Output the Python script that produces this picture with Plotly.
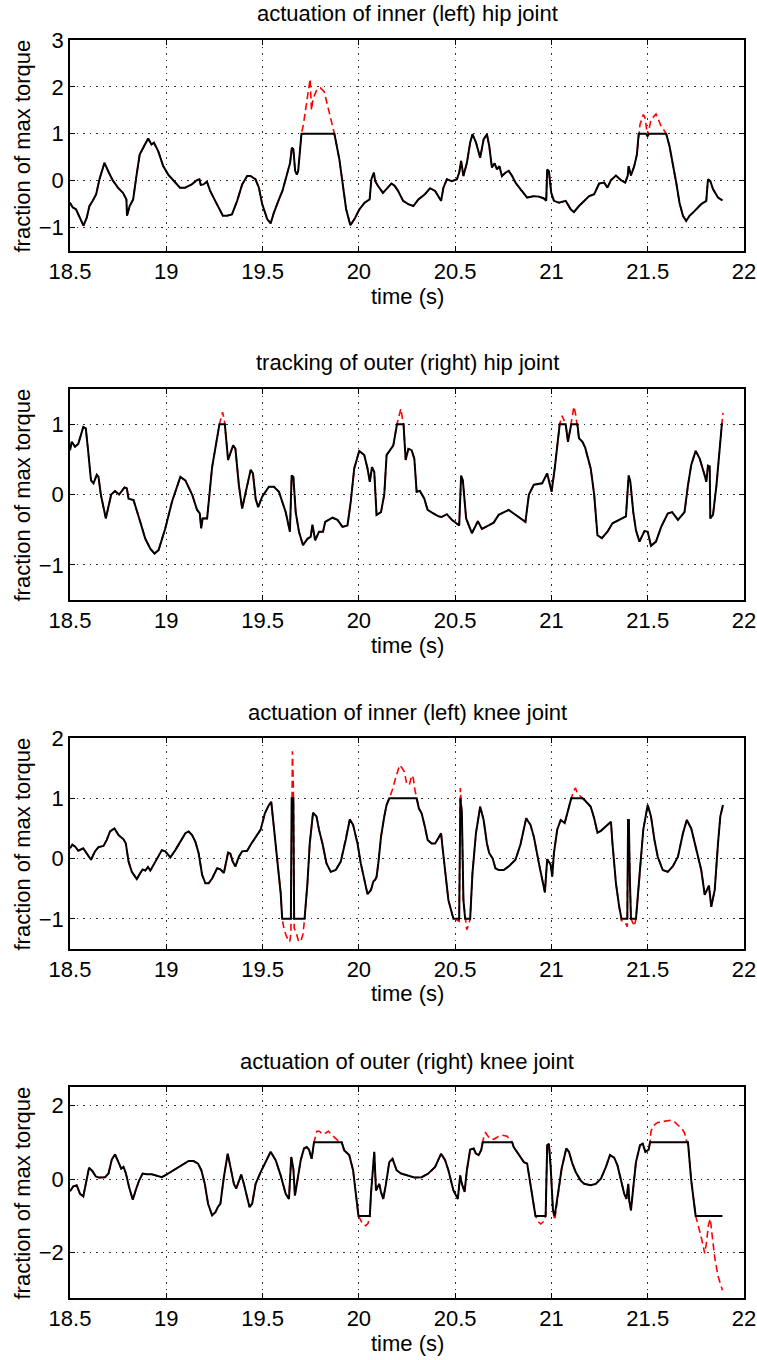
import numpy as np
import plotly.graph_objects as go

# ---------------- data ----------------
SATURATION = 1.0

titles = [
    "actuation of inner (left) hip joint",
    "tracking of outer (right) hip joint",
    "actuation of inner (left) knee joint",
    "actuation of outer (right) knee joint",
]

x_ticks = [18.5, 19, 19.5, 20, 20.5, 21, 21.5, 22]
y_ticks_1 = [-1, 0, 1, 2, 3]
y_ticks_2 = [-1, 0, 1]
y_ticks_3 = [-1, 0, 1, 2]
y_ticks_4 = [-2, 0, 2]
y_ranges = [[-1.5, 3], [-1.5, 1.5], [-1.5, 2], [-3.23, 2.5]]

# panel 1: inner hip, commanded (unsaturated) torque
t_hip_inner = [
    18.500, 18.514, 18.531, 18.549, 18.570, 18.587, 18.601, 18.618, 18.636, 18.653,
    18.679, 18.702, 18.723, 18.749, 18.775, 18.793, 18.796, 18.810, 18.828, 18.845,
    18.862, 18.889, 18.906, 18.923, 18.936, 18.958, 18.984, 19.010, 19.045, 19.071,
    19.098, 19.132, 19.159, 19.172, 19.179, 19.193, 19.211, 19.228, 19.254, 19.272,
    19.294, 19.315, 19.341, 19.368, 19.394, 19.420, 19.437, 19.463, 19.481, 19.498,
    19.524, 19.542, 19.559, 19.585, 19.603, 19.629, 19.643, 19.652, 19.660, 19.669,
    19.678, 19.685, 19.695, 19.702, 19.712, 19.725, 19.747, 19.754, 19.762, 19.780,
    19.800, 19.820, 19.840, 19.860, 19.873, 19.899, 19.916, 19.934, 19.956, 19.977,
    20.003, 20.030, 20.056, 20.065, 20.078, 20.085, 20.099, 20.125, 20.143, 20.169,
    20.186, 20.204, 20.230, 20.256, 20.283, 20.309, 20.343, 20.370, 20.396, 20.427,
    20.439, 20.457, 20.483, 20.509, 20.521, 20.531, 20.543, 20.561, 20.578, 20.590,
    20.608, 20.630, 20.648, 20.665, 20.677, 20.691, 20.705, 20.717, 20.730, 20.743,
    20.761, 20.778, 20.796, 20.813, 20.839, 20.874, 20.909, 20.935, 20.961, 20.973,
    20.978, 20.987, 20.999, 21.013, 21.039, 21.074, 21.100, 21.117, 21.143, 21.170,
    21.196, 21.222, 21.248, 21.274, 21.291, 21.309, 21.335, 21.361, 21.383, 21.396,
    21.401, 21.413, 21.430, 21.444, 21.453, 21.460, 21.477, 21.485, 21.491, 21.499,
    21.507, 21.517, 21.543, 21.557, 21.570, 21.587, 21.596, 21.613, 21.630, 21.648,
    21.665, 21.683, 21.700, 21.717, 21.743, 21.778, 21.804, 21.813, 21.825, 21.839,
    21.865, 21.888,
]
cmd_hip_inner = [
    -0.47, -0.57, -0.61, -0.79, -0.96, -0.79, -0.54, -0.43, -0.29, 0.03,
    0.38, 0.17, 0.00, -0.15, -0.26, -0.40, -0.75, -0.54, -0.40, 0.10,
    0.56, 0.77, 0.90, 0.77, 0.81, 0.63, 0.31, 0.13, -0.04, -0.15,
    -0.15, -0.08, 0.01, 0.03, -0.09, -0.08, -0.02, -0.22, -0.43, -0.57,
    -0.75, -0.75, -0.72, -0.43, -0.08, 0.10, 0.10, 0.03, -0.15, -0.50,
    -0.82, -0.91, -0.68, -0.40, -0.22, 0.17, 0.38, 0.70, 0.67, 0.21,
    0.13, 0.21, 0.60, 1.00, 1.20, 1.60, 2.17, 1.50, 1.75, 1.92,
    1.98, 1.90, 1.55, 1.25, 1.00, 0.45, -0.11, -0.61, -0.95, -0.82,
    -0.61, -0.47, -0.40, 0.03, 0.17, -0.01, -0.11, -0.26, -0.18, -0.06,
    -0.11, -0.22, -0.43, -0.50, -0.54, -0.40, -0.29, -0.16, -0.22, -0.43,
    -0.15, 0.03, -0.01, 0.03, 0.17, 0.42, 0.10, 0.38, 0.81, 0.99,
    0.82, 0.49, 0.88, 0.99, 0.74, 0.28, 0.37, 0.24, 0.31, 0.10,
    0.17, 0.21, 0.10, -0.04, -0.18, -0.36, -0.33, -0.34, -0.38, -0.43,
    0.24, 0.20, -0.26, -0.43, -0.47, -0.43, -0.61, -0.67, -0.54, -0.43,
    -0.33, -0.29, -0.06, -0.04, -0.15, 0.01, 0.11, 0.01, -0.04, 0.10,
    0.31, 0.11, 0.31, 0.56, 1.00, 1.20, 1.41, 1.35, 1.20, 0.95,
    1.10, 1.30, 1.42, 1.30, 1.16, 1.06, 1.00, 0.74, 0.38, -0.04,
    -0.47, -0.75, -0.86, -0.75, -0.65, -0.50, -0.43, 0.03, -0.01, -0.18,
    -0.36, -0.42,
]

# panel 2: outer hip
t_hip_outer = [
    18.500, 18.509, 18.526, 18.543, 18.569, 18.582, 18.595, 18.609, 18.622, 18.639,
    18.648, 18.660, 18.686, 18.714, 18.734, 18.755, 18.783, 18.795, 18.804, 18.830,
    18.865, 18.891, 18.917, 18.939, 18.960, 18.995, 19.030, 19.073, 19.099, 19.134,
    19.160, 19.174, 19.181, 19.189, 19.212, 19.238, 19.276, 19.284, 19.292, 19.300,
    19.304, 19.321, 19.347, 19.359, 19.377, 19.394, 19.411, 19.438, 19.450, 19.464,
    19.477, 19.498, 19.533, 19.559, 19.585, 19.620, 19.642, 19.651, 19.660, 19.672,
    19.689, 19.710, 19.733, 19.750, 19.759, 19.773, 19.793, 19.814, 19.825, 19.845,
    19.863, 19.889, 19.915, 19.941, 19.958, 19.976, 20.002, 20.028, 20.045, 20.057,
    20.068, 20.080, 20.092, 20.115, 20.132, 20.144, 20.161, 20.179, 20.198, 20.208,
    20.218, 20.225, 20.232, 20.243, 20.257, 20.274, 20.288, 20.300, 20.317, 20.340,
    20.357, 20.387, 20.413, 20.430, 20.457, 20.483, 20.521, 20.531, 20.540, 20.557,
    20.587, 20.618, 20.639, 20.674, 20.700, 20.726, 20.752, 20.778, 20.804, 20.830,
    20.865, 20.883, 20.909, 20.952, 20.978, 21.001, 21.018, 21.043, 21.055, 21.068,
    21.074, 21.086, 21.103, 21.110, 21.117, 21.125, 21.130, 21.135, 21.143, 21.161,
    21.175, 21.187, 21.204, 21.222, 21.239, 21.262, 21.291, 21.317, 21.352, 21.387,
    21.401, 21.410, 21.425, 21.439, 21.457, 21.483, 21.500, 21.517, 21.543, 21.570,
    21.604, 21.627, 21.657, 21.691, 21.709, 21.726, 21.749, 21.770, 21.796, 21.804,
    21.813, 21.822, 21.825, 21.839, 21.857, 21.874, 21.885, 21.891,
]
cmd_hip_outer = [
    0.63, 0.75, 0.68, 0.72, 0.96, 0.94, 0.60, 0.20, 0.16, 0.28,
    0.25, 0.00, -0.34, 0.00, 0.05, 0.00, 0.10, 0.09, -0.06, -0.08,
    -0.39, -0.63, -0.77, -0.84, -0.79, -0.48, -0.10, 0.25, 0.20, 0.00,
    -0.22, -0.27, -0.48, -0.34, -0.34, 0.39, 1.00, 1.10, 1.17, 1.08,
    1.00, 0.49, 0.70, 0.65, 0.13, -0.20, 0.00, 0.35, 0.30, -0.06,
    -0.18, -0.03, 0.11, 0.11, 0.04, -0.25, -0.53, 0.27, 0.25, -0.25,
    -0.53, -0.72, -0.63, -0.60, -0.43, -0.65, -0.53, -0.53, -0.39, -0.36,
    -0.33, -0.36, -0.46, -0.44, -0.10, 0.37, 0.62, 0.56, 0.37, 0.18,
    0.39, 0.32, -0.29, -0.25, 0.00, 0.56, 0.62, 0.70, 1.00, 1.12,
    1.22, 1.10, 1.00, 0.49, 0.65, 0.63, 0.51, 0.04, 0.05, -0.06,
    -0.22, -0.27, -0.31, -0.32, -0.28, -0.36, -0.44, 0.27, 0.20, -0.34,
    -0.55, -0.38, -0.49, -0.44, -0.40, -0.29, -0.25, -0.22, -0.27, -0.32,
    -0.39, 0.00, 0.14, 0.16, 0.30, 0.04, 0.39, 1.00, 1.12, 1.04,
    1.00, 0.75, 1.00, 1.15, 1.25, 1.15, 1.05, 1.00, 0.80, 0.75,
    0.67, 0.54, 0.37, 0.00, -0.58, -0.62, -0.53, -0.41, -0.36, -0.31,
    0.27, 0.18, -0.25, -0.51, -0.67, -0.52, -0.53, -0.73, -0.67, -0.46,
    -0.27, -0.25, -0.36, -0.25, 0.13, 0.42, 0.62, 0.51, 0.27, 0.18,
    0.41, 0.40, -0.34, -0.29, 0.13, 0.73, 1.00, 1.16,
]

# panel 3: inner knee
t_knee_inner = [
    18.500, 18.512, 18.526, 18.543, 18.569, 18.587, 18.609, 18.630, 18.648, 18.674,
    18.691, 18.708, 18.731, 18.752, 18.778, 18.790, 18.804, 18.821, 18.847, 18.865,
    18.877, 18.891, 18.905, 18.917, 18.934, 18.951, 18.977, 18.995, 19.021, 19.047,
    19.073, 19.099, 19.116, 19.134, 19.151, 19.168, 19.186, 19.203, 19.220, 19.238,
    19.264, 19.281, 19.299, 19.321, 19.333, 19.345, 19.359, 19.377, 19.394, 19.420,
    19.438, 19.464, 19.490, 19.512, 19.533, 19.545, 19.559, 19.576, 19.594, 19.602,
    19.612, 19.625, 19.641, 19.647, 19.651, 19.655, 19.660, 19.664, 19.676, 19.688,
    19.700, 19.710, 19.718, 19.733, 19.745, 19.762, 19.780, 19.793, 19.811, 19.832,
    19.854, 19.880, 19.906, 19.932, 19.953, 19.970, 19.993, 20.010, 20.028, 20.045,
    20.063, 20.075, 20.085, 20.092, 20.101, 20.115, 20.132, 20.144, 20.158, 20.175,
    20.193, 20.212, 20.225, 20.236, 20.248, 20.262, 20.275, 20.283, 20.291, 20.300,
    20.312, 20.326, 20.343, 20.357, 20.378, 20.396, 20.413, 20.427, 20.434, 20.448,
    20.465, 20.491, 20.521, 20.527, 20.535, 20.543, 20.552, 20.560, 20.570, 20.578,
    20.590, 20.608, 20.630, 20.648, 20.665, 20.677, 20.695, 20.709, 20.726, 20.752,
    20.778, 20.813, 20.839, 20.869, 20.891, 20.909, 20.935, 20.952, 20.966, 20.978,
    20.996, 21.004, 21.013, 21.030, 21.048, 21.069, 21.086, 21.103, 21.115, 21.125,
    21.135, 21.150, 21.161, 21.170, 21.182, 21.204, 21.222, 21.239, 21.257, 21.283,
    21.309, 21.317, 21.335, 21.352, 21.364, 21.380, 21.394, 21.398, 21.402, 21.407,
    21.413, 21.422, 21.430, 21.439, 21.457, 21.477, 21.500, 21.517, 21.535, 21.552,
    21.578, 21.604, 21.630, 21.657, 21.683, 21.703, 21.726, 21.752, 21.778, 21.796,
    21.813, 21.818, 21.830, 21.848, 21.865, 21.877, 21.891,
]
cmd_knee_inner = [
    0.17, 0.23, 0.20, 0.13, 0.17, 0.08, -0.02, 0.12, 0.19, 0.21,
    0.31, 0.45, 0.50, 0.39, 0.32, 0.25, -0.05, -0.22, -0.34, -0.24,
    -0.18, -0.20, -0.14, -0.20, -0.10, 0.00, 0.14, 0.12, 0.02, 0.14,
    0.28, 0.42, 0.45, 0.39, 0.28, 0.09, -0.27, -0.41, -0.41, -0.33,
    -0.16, -0.18, -0.24, 0.10, 0.08, -0.05, -0.13, 0.03, 0.12, 0.13,
    0.23, 0.36, 0.48, 0.75, 0.89, 0.94, 0.53, -0.02, -0.57, -1.00,
    -1.18, -1.30, -1.38, -1.25, 1.20, 1.78, 1.20, -1.15, -1.25, -1.38,
    -1.36, -1.25, -1.00, -0.41, 0.25, 0.76, 0.70, 0.48, 0.25, -0.08,
    -0.22, -0.19, -0.05, 0.31, 0.65, 0.56, 0.25, -0.08, -0.35, -0.59,
    -0.52, -0.38, -0.35, -0.30, -0.08, 0.36, 0.70, 0.89, 1.00, 1.15,
    1.36, 1.55, 1.50, 1.44, 1.25, 1.22, 1.38, 1.33, 1.14, 1.00,
    0.83, 0.75, 0.53, 0.31, 0.25, 0.25, 0.34, 0.42, 0.20, -0.24,
    -0.69, -1.00, -1.04, 1.17, 0.75, -0.69, -1.00, -1.18, -1.10, -1.00,
    -0.24, 0.42, 0.86, 0.64, 0.25, 0.09, 0.00, -0.16, -0.19, -0.19,
    -0.13, -0.02, 0.23, 0.67, 0.56, 0.36, -0.08, -0.35, -0.56, -0.01,
    -0.10, -0.30, 0.09, 0.48, 0.64, 0.59, 0.81, 1.00, 1.12, 1.17,
    1.08, 1.04, 1.00, 0.98, 0.94, 0.86, 0.67, 0.43, 0.46, 0.53,
    0.61, 0.25, -0.41, -0.80, -1.03, -1.05, -1.13, 0.64, 0.64, -0.30,
    -1.00, -1.06, -1.12, -1.00, -0.30, 0.48, 0.89, 0.70, 0.31, 0.03,
    -0.19, -0.22, -0.13, 0.03, 0.42, 0.64, 0.50, 0.14, -0.19, -0.60,
    -0.49, -0.45, -0.80, -0.52, 0.25, 0.70, 0.89,
]

# panel 4: outer knee
t_knee_outer = [
    18.500, 18.517, 18.535, 18.552, 18.569, 18.582, 18.599, 18.616, 18.634, 18.651,
    18.682, 18.700, 18.717, 18.734, 18.752, 18.766, 18.778, 18.790, 18.807, 18.826,
    18.842, 18.859, 18.877, 18.899, 18.925, 18.951, 18.977, 19.003, 19.030, 19.064,
    19.090, 19.116, 19.142, 19.165, 19.182, 19.200, 19.217, 19.238, 19.255, 19.269,
    19.281, 19.299, 19.319, 19.333, 19.351, 19.363, 19.377, 19.389, 19.403, 19.420,
    19.432, 19.446, 19.464, 19.490, 19.516, 19.542, 19.568, 19.594, 19.620, 19.637,
    19.649, 19.660, 19.668, 19.684, 19.698, 19.715, 19.729, 19.741, 19.755, 19.767,
    19.775, 19.782, 19.795, 19.810, 19.830, 19.842, 19.855, 19.870, 19.890, 19.911,
    19.924, 19.950, 19.970, 19.984, 19.998, 20.010, 20.020, 20.035, 20.048, 20.057,
    20.063, 20.080, 20.089, 20.106, 20.115, 20.127, 20.141, 20.158, 20.175, 20.196,
    20.219, 20.245, 20.271, 20.291, 20.326, 20.361, 20.396, 20.427, 20.448, 20.465,
    20.491, 20.514, 20.526, 20.535, 20.549, 20.561, 20.578, 20.596, 20.608, 20.622,
    20.636, 20.643, 20.650, 20.658, 20.668, 20.680, 20.700, 20.726, 20.745, 20.770,
    20.788, 20.796, 20.804, 20.830, 20.857, 20.874, 20.891, 20.905, 20.917, 20.930,
    20.945, 20.960, 20.970, 20.978, 20.987, 20.996, 21.008, 21.017, 21.030, 21.053,
    21.077, 21.091, 21.109, 21.126, 21.152, 21.170, 21.204, 21.230, 21.257, 21.283,
    21.304, 21.326, 21.343, 21.361, 21.378, 21.390, 21.399, 21.404, 21.413, 21.427,
    21.439, 21.460, 21.474, 21.488, 21.505, 21.512, 21.517, 21.530, 21.550, 21.575,
    21.600, 21.620, 21.640, 21.660, 21.680, 21.692, 21.700, 21.709, 21.726, 21.749,
    21.760, 21.778, 21.796, 21.806, 21.815, 21.825, 21.835, 21.848, 21.865, 21.888,
]
cmd_knee_outer = [
    -0.33, -0.20, -0.17, -0.40, -0.47, -0.17, 0.31, 0.22, 0.07, 0.04,
    0.05, 0.15, 0.53, 0.67, 0.42, 0.28, 0.33, 0.16, -0.22, -0.56,
    -0.29, -0.04, 0.15, 0.13, 0.13, 0.10, 0.05, 0.13, 0.22, 0.33,
    0.42, 0.49, 0.49, 0.42, 0.24, -0.13, -0.67, -0.99, -0.90, -0.75,
    -0.67, 0.05, 0.69, 0.33, -0.13, -0.26, -0.04, 0.12, -0.13, -0.54,
    -0.76, -0.67, -0.13, 0.19, 0.46, 0.74, 0.51, 0.10, -0.40, -0.54,
    0.60, 0.28, -0.45, 0.05, 0.51, 0.83, 0.87, 0.80, 0.55, 1.00,
    1.20, 1.30, 1.30, 1.22, 1.26, 1.30, 1.22, 1.15, 1.05, 1.00,
    0.78, 0.65, 0.24, -0.40, -1.00, -1.12, -1.22, -1.27, -1.20, -1.00,
    -0.40, 0.74, -0.31, -0.13, -0.35, -0.54, -0.13, 0.46, 0.55, 0.24,
    0.15, 0.10, 0.07, 0.04, 0.05, 0.15, 0.33, 0.69, 0.51, 0.24,
    -0.31, -0.54, 0.10, -0.13, -0.35, 0.24, 0.80, 0.83, 0.69, 0.65,
    0.80, 1.00, 1.18, 1.26, 1.20, 1.10, 1.08, 1.16, 1.19, 1.16,
    1.05, 1.00, 0.87, 0.65, 0.46, 0.42, -0.13, -0.67, -1.00, -1.15,
    -1.22, -1.15, -1.00, 0.92, 0.96, 0.33, -0.85, -1.12, -0.58, 0.28,
    0.83, 0.74, 0.42, 0.19, -0.04, -0.13, -0.17, -0.13, 0.01, 0.33,
    0.65, 0.58, 0.37, 0.01, -0.40, -0.54, -0.13, -0.58, -0.85, -0.13,
    0.46, 0.92, 0.96, 0.74, 0.80, 1.00, 1.30, 1.45, 1.53, 1.56,
    1.58, 1.60, 1.55, 1.45, 1.35, 1.24, 1.05, 1.00, -0.04, -1.00,
    -1.20, -1.58, -2.02, -1.70, -1.25, -1.08, -1.55, -2.13, -2.63, -3.02,
]

panels = [
    (t_hip_inner, cmd_hip_inner, y_ticks_1),
    (t_hip_outer, cmd_hip_outer, y_ticks_2),
    (t_knee_inner, cmd_knee_inner, y_ticks_3),
    (t_knee_outer, cmd_knee_outer, y_ticks_4),
]

# ---------------- layout geometry (pixels) ----------------
W, H = 757, 1360
PLOT_LEFT, PLOT_RIGHT = 70, 744
PLOT_TOPS = [40, 389, 738, 1087]
PLOT_H = 211
FONT = "Liberation Sans, Arial, sans-serif"
FS = 22


def py(p):
    return 1 - p / H


fig = go.Figure()
layout = dict(
    width=W, height=H,
    margin=dict(l=0, r=0, t=0, b=0, autoexpand=False),
    paper_bgcolor="white", plot_bgcolor="white",
    showlegend=False,
    font=dict(family=FONT, size=FS, color="black"),
    annotations=[],
)

for i, (t, cmd, yt) in enumerate(panels):
    k = "" if i == 0 else str(i + 1)
    xa, ya = "x" + k, "y" + k
    cmd = np.asarray(cmd, dtype=float)
    sat = np.clip(cmd, -SATURATION, SATURATION)
    fig.add_trace(go.Scatter(x=t, y=cmd, mode="lines", xaxis=xa, yaxis=ya,
                             line=dict(color="red", width=1.6, dash="7px,4px")))
    fig.add_trace(go.Scatter(x=t, y=sat, mode="lines", xaxis=xa, yaxis=ya,
                             line=dict(color="black", width=2)))
    top = PLOT_TOPS[i]
    bot = top + PLOT_H
    common = dict(
        showline=True, mirror="allticks", linecolor="black", linewidth=1.5,
        ticks="inside", ticklen=5, tickcolor="black", tickwidth=1,
        showgrid=True, gridcolor="#333333", gridwidth=1, griddash="1.5px,5px",
        zeroline=False, automargin=False,
        tickfont=dict(family=FONT, size=FS, color="black"),
    )
    layout["xaxis" + k] = dict(
        common, domain=[PLOT_LEFT / W, PLOT_RIGHT / W], anchor=ya,
        range=[18.5, 22], tickvals=x_ticks, ticktext=[f"{v:g}" for v in x_ticks],
    )
    layout["yaxis" + k] = dict(
        common, domain=[py(bot), py(top)], anchor=xa,
        range=y_ranges[i], tickvals=yt, ticktext=[f"{v:g}".replace("-", "\u2212") for v in yt],
    )
    layout["annotations"] += [
        dict(text=titles[i], x=(PLOT_LEFT + PLOT_RIGHT) / 2 / W, y=py(top - 26),
             xref="paper", yref="paper", showarrow=False, xanchor="center", yanchor="middle",
             font=dict(family=FONT, size=FS, color="black")),
        dict(text="time (s)", x=(PLOT_LEFT + PLOT_RIGHT) / 2 / W, y=py(bot + 45),
             xref="paper", yref="paper", showarrow=False, xanchor="center", yanchor="middle",
             font=dict(family=FONT, size=FS, color="black")),
        dict(text="fraction of max torque", x=22 / W, y=py(top + PLOT_H / 2 + 1),
             xref="paper", yref="paper", showarrow=False, xanchor="center", yanchor="middle",
             textangle=-90, font=dict(family=FONT, size=FS, color="black")),
    ]

fig.update_layout(**layout)
fig.write_html("out.html")
